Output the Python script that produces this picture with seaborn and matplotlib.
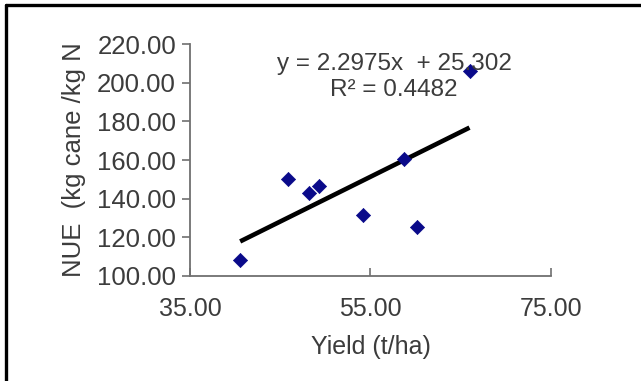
import matplotlib
matplotlib.use("Agg")
import matplotlib.pyplot as plt
from matplotlib.lines import Line2D
import seaborn as sns
import pandas as pd

# Data
yield_t_ha = [40.56, 45.84, 48.2, 49.3, 54.16, 58.7, 60.1, 65.97]
nue = [108.3, 150.0, 143.1, 146.6, 131.4, 160.4, 125.2, 205.9]
x_ticks = [35.0, 55.0, 75.0]
y_ticks = [100.0, 120.0, 140.0, 160.0, 180.0, 200.0, 220.0]
equation_text = "y = 2.2975x  + 25.302"
r2_text = "R² = 0.4482"

df = pd.DataFrame({"Yield": yield_t_ha, "NUE": nue})

sns.set_theme(style="white")
plt.rcParams["font.family"] = ["Liberation Sans", "DejaVu Sans"]

fig = plt.figure(figsize=(6.41, 3.81), dpi=100)
ax = fig.add_axes([0.2964, 0.2756, 0.5632, 0.6089])

sns.regplot(data=df, x="Yield", y="NUE", ax=ax, scatter=False, ci=None,
            truncate=True, line_kws={"color": "black", "linewidth": 3.3, "solid_capstyle": "butt"})
sns.scatterplot(data=df, x="Yield", y="NUE", ax=ax, marker="D", s=52,
                color="#0a0a8a", edgecolor="#0a0a8a", linewidth=0.5, zorder=3)

ax.set_xlim(35, 75)
ax.set_ylim(100, 220)
ax.set_xticks(x_ticks)
ax.set_yticks(y_ticks)
ax.set_xticklabels([f"{v:.2f}" for v in x_ticks])
ax.set_yticklabels([f"{v:.2f}" for v in y_ticks])

txt_color = "#3c3c3c"
for s in ["top", "right"]:
    ax.spines[s].set_visible(False)
for s in ["left", "bottom"]:
    ax.spines[s].set_color("#707070")
    ax.spines[s].set_linewidth(1.3)

ax.tick_params(axis="y", direction="out", length=6, width=1.2, color="#707070",
               labelsize=18.5, labelcolor=txt_color, pad=4, left=True)
ax.tick_params(axis="x", direction="in", length=6, width=1.2, color="#707070",
               labelsize=18, labelcolor=txt_color, pad=15, bottom=True)

ax.set_xlabel("Yield (t/ha)", fontsize=18, color=txt_color, labelpad=10)
ax.set_ylabel("NUE  (kg cane /kg N", fontsize=18.5, color=txt_color, labelpad=8)

ax.text(0.565, 0.915, equation_text, transform=ax.transAxes, ha="center", va="center",
        fontsize=17.5, color=txt_color)
ax.text(0.565, 0.803, r2_text, transform=ax.transAxes, ha="center", va="center",
        fontsize=17.5, color=txt_color)

# Frame lines (left and top) as in the reference
fig.add_artist(Line2D([6 / 641, 6 / 641], [0, 1 - 5 / 381], transform=fig.transFigure,
                      color="black", linewidth=2.4))
fig.add_artist(Line2D([6 / 641, 1], [1 - 5 / 381, 1 - 5 / 381], transform=fig.transFigure,
                      color="black", linewidth=2.4))

fig.savefig("out.png", dpi=100, facecolor="white")
